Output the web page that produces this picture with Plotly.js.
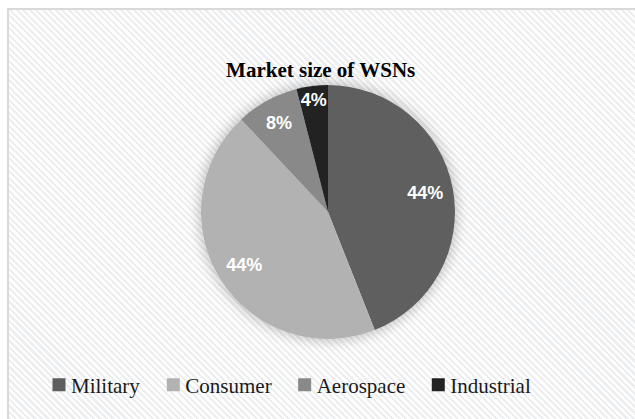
<!DOCTYPE html>
<html>
<head>
<meta charset="utf-8">
<script src="https://cdn.plot.ly/plotly-3.0.1.min.js"></script>
<style>
  html, body { margin: 0; padding: 0; background: #ffffff; }
  #wrap { position: relative; width: 635px; height: 419px; overflow: hidden; background: #ffffff; }
  #frame {
    position: absolute; left: 7px; top: 8px; width: 640px; height: 420px;
    border-left: 2px solid #d9d9d9; border-top: 2px solid #d9d9d9;
    background: repeating-linear-gradient(45deg, #ffffff 0px, #ffffff 2.4px, #eceef0 2.4px, #eceef0 4.6px);
  }
  #shadow {
    position: absolute; left: 201px; top: 85px; width: 254px; height: 254px; border-radius: 50%;
    box-shadow: 0 0 12px 3px rgba(0,0,0,0.2);
  }
  #chart { position: absolute; left: 0; top: 0; width: 635px; height: 419px; }
</style>
</head>
<body>
<div id="wrap">
  <div id="frame"></div>
  <div id="shadow"></div>
  <div id="chart"></div>
</div>
<script>
const categories = ["Military", "Consumer", "Aerospace", "Industrial"];
const shares = [44, 44, 8, 4];
const sliceColors = ["#5f5f5f", "#b2b2b2", "#898989", "#222222"];

const pieDomain = { x: [201/635, 455/635], y: [(419-339)/419, (419-85)/419] };

const pieTrace = {
  type: "pie",
  labels: categories,
  values: shares,
  sort: false,
  direction: "clockwise",
  rotation: 0,
  marker: { colors: sliceColors, line: { width: 0 } },
  textinfo: "none",
  hoverinfo: "label+percent",
  domain: pieDomain,
  showlegend: true
};

// transparent ring carrying the percentage labels (pushes them outward like the original)
const labelTrace = {
  type: "pie",
  labels: categories,
  values: shares,
  sort: false,
  direction: "clockwise",
  rotation: 0,
  hole: 0.56,
  marker: { colors: categories.map(() => "rgba(0,0,0,0)"), line: { width: 0 } },
  textinfo: "percent",
  texttemplate: "%{percent:.0%}",
  textposition: "inside",
  insidetextorientation: "horizontal",
  textfont: { family: "Liberation Sans, Arial, sans-serif", size: 18, color: "#ffffff", weight: "bold" },
  hoverinfo: "skip",
  domain: pieDomain,
  showlegend: false
};

const layout = {
  width: 635, height: 419,
  margin: { l: 0, r: 0, t: 0, b: 0 },
  paper_bgcolor: "rgba(0,0,0,0)",
  plot_bgcolor: "rgba(0,0,0,0)",
  uniformtext: { minsize: 18, mode: "show" },
  title: {
    text: "<b>Market size of WSNs</b>",
    font: { family: "Liberation Serif, Times New Roman, serif", size: 21, color: "#000000" },
    x: 0.505, xanchor: "center",
    y: 1 - 70/419, yanchor: "middle"
  },
  legend: {
    orientation: "h",
    x: 0.5 - 26/635, xanchor: "center",
    y: 34/419, yanchor: "middle",
    font: { family: "Liberation Serif, Times New Roman, serif", size: 21, color: "#1a1a1a" },
    bgcolor: "rgba(0,0,0,0)",
    itemclick: false, itemdoubleclick: false
  }
};

Plotly.newPlot("chart", [pieTrace, labelTrace], layout, { displayModeBar: false, staticPlot: true }).then(function (gd) {
  // tighten legend: slightly larger swatches, text closer to swatch
  gd.querySelectorAll(".legend .legendpoints path").forEach(function (p) {
    p.setAttribute("d", "M6.5,6.5H-6.5V-6.5H6.5Z");
    p.style.strokeWidth = "0px";
  });
  gd.querySelectorAll(".legend text.legendtext").forEach(function (t) {
    t.setAttribute("x", "32");
  });
});
</script>
</body>
</html>
